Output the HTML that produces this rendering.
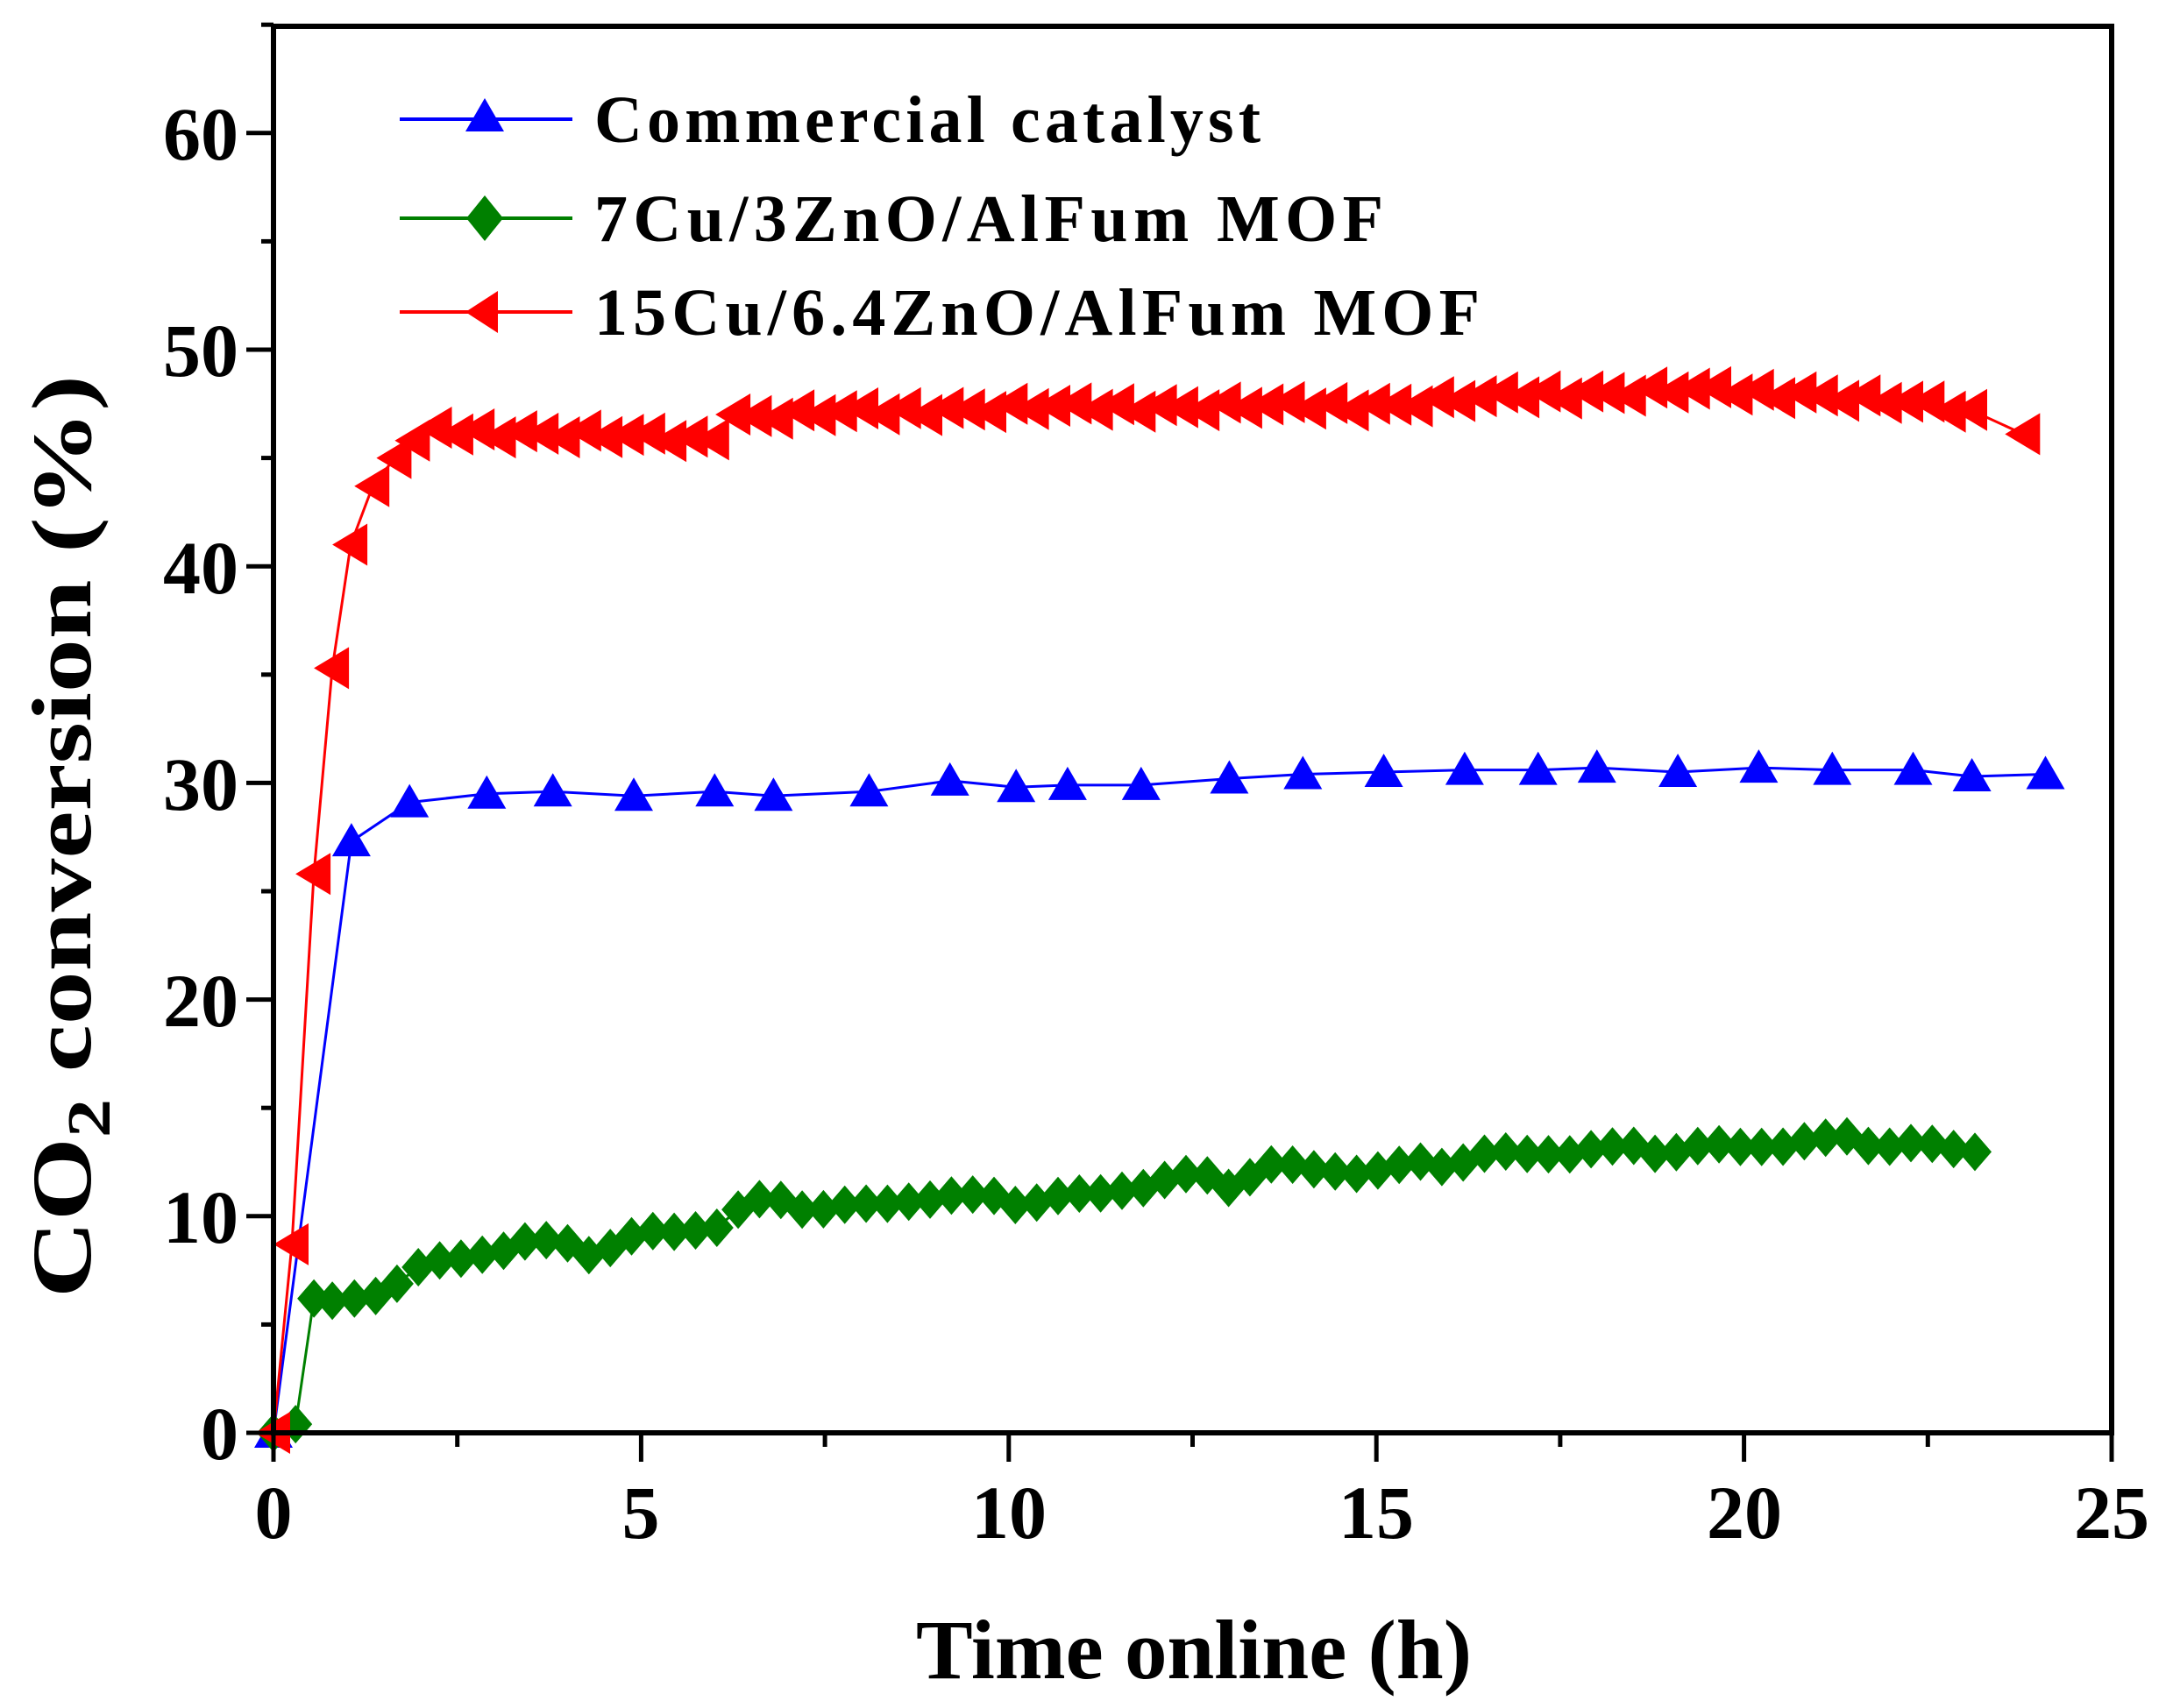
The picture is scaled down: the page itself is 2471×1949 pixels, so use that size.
<!DOCTYPE html>
<html><head><meta charset="utf-8"><style>
html,body{margin:0;padding:0;background:#fff;width:2471px;height:1949px;overflow:hidden}
svg{display:block}
text{font-family:"Liberation Serif",serif;font-weight:bold;fill:#000}
</style></head><body>
<svg id="s" width="2471" height="1949" viewBox="0 0 2471 1949" xmlns="http://www.w3.org/2000/svg">
<g id="plot"></g>
<rect x="312" y="30" width="2097" height="1605" fill="none" stroke="#000" stroke-width="6"/>
<g id="ticks" stroke="#000" stroke-width="5"></g>
<g font-size="86" text-anchor="end">
<text x="272" y="1665">0</text><text x="272" y="1418">10</text><text x="272" y="1171">20</text>
<text x="272" y="924">30</text><text x="272" y="677">40</text><text x="272" y="429">50</text><text x="272" y="182">60</text>
</g>
<g font-size="86" text-anchor="middle">
<text x="312" y="1755">0</text><text x="731" y="1755">5</text><text x="1151" y="1755">10</text>
<text x="1570" y="1755">15</text><text x="1990" y="1755">20</text><text x="2409" y="1755">25</text>
</g>
<text x="1045" y="1915" font-size="96" textLength="634" lengthAdjust="spacingAndGlyphs">Time online (h)</text>
<text transform="translate(103,1481) rotate(-90)" font-size="96" textLength="1053" lengthAdjust="spacingAndGlyphs">CO<tspan font-size="70" dy="22">2</tspan><tspan dy="-22"> conversion (%)</tspan></text>
<g>
<line x1="456" y1="136" x2="653" y2="136" stroke="#0000ff" stroke-width="4"/>
<polygon points="553,112 531,150 575,150" fill="#0000ff"/>
<line x1="456" y1="249" x2="653" y2="249" stroke="#008000" stroke-width="4"/>
<polygon points="553,223 574,249 553,275 532,249" fill="#008000"/>
<line x1="456" y1="356" x2="653" y2="356" stroke="#ff0000" stroke-width="4"/>
<polygon points="531,356 568,332 568,380" fill="#ff0000"/>
<g font-size="76">
<text x="678" y="162" textLength="760" lengthAdjust="spacing">Commercial catalyst</text>
<text x="678" y="275" textLength="900" lengthAdjust="spacing">7Cu/3ZnO/AlFum MOF</text>
<text x="678" y="382" textLength="1010" lengthAdjust="spacing">15Cu/6.4ZnO/AlFum MOF</text>
</g>
</g>
</svg>
<script>
var NS="http://www.w3.org/2000/svg";
function X(h){return 312+83.88*h}
function Y(v){return 1635-24.72*v}
function el(t,a,p){var e=document.createElementNS(NS,t);for(var k in a)e.setAttribute(k,a[k]);p.appendChild(e);return e}
var tk=document.getElementById('ticks');
for(var v=0;v<=65;v+=5){var y=Y(v);el('line',{x1:v%10==0?281:298,x2:312,y1:y,y2:y},tk)}
for(var h=0;h<=25;h+=2.5){var x=X(h);el('line',{x1:x,x2:x,y1:1635,y2:(h%5==0)?1668:1651},tk)}
function interp(pts,h){for(var i=0;i<pts.length-1;i++){if(h<=pts[i+1][0]){var a=pts[i],b=pts[i+1];return a[1]+(b[1]-a[1])*(h-a[0])/(b[0]-a[0])}}return pts[pts.length-1][1]}
var P=document.getElementById('plot');
function series(pts,color,mk){
 var d=pts.map(function(p,i){return (i?'L':'M')+X(p[0]).toFixed(1)+','+Y(p[1]).toFixed(1)}).join('');
 el('path',{d:d,fill:'none',stroke:color,'stroke-width':3},P);
 pts.forEach(function(p){var x=X(p[0]),y=Y(p[1]),s;
  if(mk=='t')s=[[x,y-21],[x-22,y+17],[x+22,y+17]];
  else if(mk=='d')s=[[x,y-22],[x+19,y],[x,y+22],[x-19,y]];
  else s=[[x-21,y],[x+19,y-24],[x+19,y+24]];
  el('polygon',{points:s.map(function(q){return q[0].toFixed(1)+','+q[1].toFixed(1)}).join(' '),fill:color},P)});
}
var blue=[[0,0],[1.06,27.3],[1.85,29.1],[2.9,29.5],[3.8,29.6],[4.9,29.4],[6.0,29.6],[6.8,29.4],[8.1,29.6],[9.2,30.1],[10.1,29.8],[10.8,29.9],[11.8,29.9],[13.0,30.2],[14.0,30.4],[15.1,30.5],[16.2,30.6],[17.2,30.6],[18.0,30.7],[19.1,30.5],[20.2,30.7],[21.2,30.6],[22.3,30.6],[23.1,30.3],[24.1,30.4]];
var redK=[[2.2,46.2],[4,46.1],[5.9,45.8],[6.2,46.9],[10,47.3],[15,47.4],[17,47.9],[19.3,48.1],[21,47.9],[22.5,47.4],[23.2,47.0]];
var red=[[0,0],[0.25,8.7],[0.55,25.8],[0.8,35.3],[1.05,41],[1.35,43.7],[1.65,45],[1.9,45.8]];
var j=[0.2,-0.1,0.15,-0.2,0.1,0,-0.15,0.2,-0.05,0.1];
var i=0;for(var h=2.2;h<=23.2;h+=0.29){red.push([h,interp(redK,h)+j[i++%10]])}
red.push([23.8,46.1]);
var greenK=[[1.1,6.0],[2,7.6],[3.5,8.8],[4.3,8.4],[5,9.1],[6.0,9.5],[6.5,10.6],[8,10.4],[9,10.9],[10,10.7],[11,10.9],[12.5,11.8],[13,11.5],[13.5,12.3],[15,12.0],[16.5,12.8],[18,13.0],[20,13.2],[21.5,13.5],[23.2,13.0]];
var green=[[0,0],[0.3,0.4],[0.55,6.2],[0.8,6.1]];
i=0;for(var h=1.1;h<=23.25;h+=0.29){green.push([h,interp(greenK,h)+j[(i++*3)%10]])}
series(blue,'#0000ff','t');
series(green,'#008000','d');
series(red,'#ff0000','l');
</script>
</body></html>
